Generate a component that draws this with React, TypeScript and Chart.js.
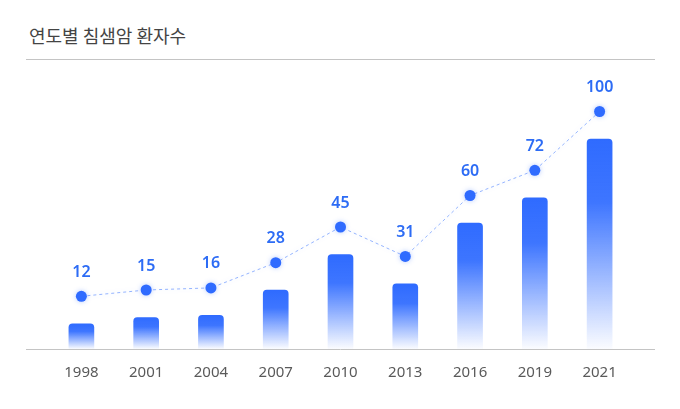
import { useEffect, useRef } from "react";
import { Chart, registerables } from "chart.js";

Chart.register(...registerables);

const years = ["1998", "2001", "2004", "2007", "2010", "2013", "2016", "2019", "2021"];
const patients = [12, 15, 16, 28, 45, 31, 60, 72, 100];

const BLUE = "#2f6bff";
const FONT = '"Noto Sans", "Noto Sans CJK KR", sans-serif';

// point glow, value labels above the line points and the long baseline
const overlayPlugin = {
  id: "overlay",
  beforeDatasetDraw(chart: Chart, args: any) {
    if (args.index === 1) {
      chart.ctx.save();
      chart.ctx.shadowColor = "rgba(47,107,255,0.35)";
      chart.ctx.shadowBlur = 5;
    }
  },
  afterDatasetDraw(chart: Chart, args: any) {
    if (args.index === 1) chart.ctx.restore();
  },
  afterDatasetsDraw(chart: Chart) {
    const { ctx, chartArea } = chart;
    ctx.save();
    ctx.strokeStyle = "#c4c4c4";
    ctx.lineWidth = 1;
    ctx.beginPath();
    ctx.moveTo(26, chartArea.bottom + 0.5);
    ctx.lineTo(655, chartArea.bottom + 0.5);
    ctx.stroke();

    const meta = chart.getDatasetMeta(1);
    ctx.fillStyle = "#2d6cf5";
    ctx.font = `600 16px ${FONT}`;
    ctx.textAlign = "center";
    ctx.textBaseline = "middle";
    meta.data.forEach((pt: any, i: number) => {
      ctx.fillText(String(patients[i]), pt.x, pt.y - 24);
    });
    ctx.restore();
  },
};

const App = () => {
  const canvasRef = useRef<HTMLCanvasElement>(null);
  const chartRef = useRef<Chart | null>(null);

  useEffect(() => {
    if (!canvasRef.current) return;
    const ctx = canvasRef.current.getContext("2d");
    if (!ctx) return;

    chartRef.current = new Chart(ctx, {
      type: "bar",
      data: {
        labels: years,
        datasets: [
          {
            type: "bar",
            data: patients,
            yAxisID: "y",
            barThickness: 25,
            borderRadius: { topLeft: 4, topRight: 4, bottomLeft: 0, bottomRight: 0 },
            borderSkipped: false,
            backgroundColor: (c: any) => {
              const chart = c.chart;
              if (!chart.chartArea || c.parsed == null) return BLUE;
              const y = chart.scales.y;
              const top = y.getPixelForValue(c.parsed.y);
              const bottom = y.getPixelForValue(0);
              const g = chart.ctx.createLinearGradient(0, top, 0, bottom);
              g.addColorStop(0, "rgba(47,107,255,1)");
              g.addColorStop(0.3, "rgba(47,107,255,0.93)");
              g.addColorStop(1, "rgba(47,107,255,0.02)");
              return g;
            },
            order: 2,
          },
          {
            type: "line",
            data: patients,
            yAxisID: "y2",
            borderColor: "rgba(47,107,255,0.5)",
            borderWidth: 1,
            borderDash: [3, 3],
            tension: 0,
            pointRadius: 5.5,
            pointBackgroundColor: BLUE,
            pointBorderWidth: 0,
            order: 1,
          },
        ],
      },
      options: {
        animation: false,
        responsive: false,
        devicePixelRatio: 1,
        layout: { padding: { left: 49, right: 48, top: 76, bottom: 12 } },
        plugins: {
          legend: { display: false },
          tooltip: { enabled: false },
        },
        scales: {
          x: {
            grid: { display: false, drawTicks: false },
            border: { display: false },
            ticks: {
              color: "#5a5a5a",
              padding: 15,
              font: { family: FONT, size: 15 },
            },
          },
          y: { display: false, min: 0, max: 130 },
          y2: { display: false, min: -13.1, max: 116.9 },
        },
      },
      plugins: [overlayPlugin],
    });

    return () => {
      chartRef.current?.destroy();
      chartRef.current = null;
    };
  }, []);

  return (
    <div
      style={{
        position: "fixed",
        top: 0,
        left: 0,
        width: 680,
        height: 409,
        background: "#fff",
        overflow: "hidden",
      }}
    >
      <div
        style={{
          position: "absolute",
          left: 29,
          top: 25,
          lineHeight: "20px",
          fontSize: 18,
          fontWeight: 400,
          color: "#444",
          fontFamily: '"Noto Sans CJK KR", "Noto Sans", sans-serif',
        }}
      >
        연도별 침샘암 환자수
      </div>
      <div
        style={{
          position: "absolute",
          left: 26,
          top: 59,
          width: 629,
          height: 1,
          background: "#c4c4c4",
        }}
      />
      <canvas
        ref={canvasRef}
        width={680}
        height={409}
        style={{ position: "absolute", top: 0, left: 0, width: 680, height: 409 }}
      />
    </div>
  );
};

export default App;
